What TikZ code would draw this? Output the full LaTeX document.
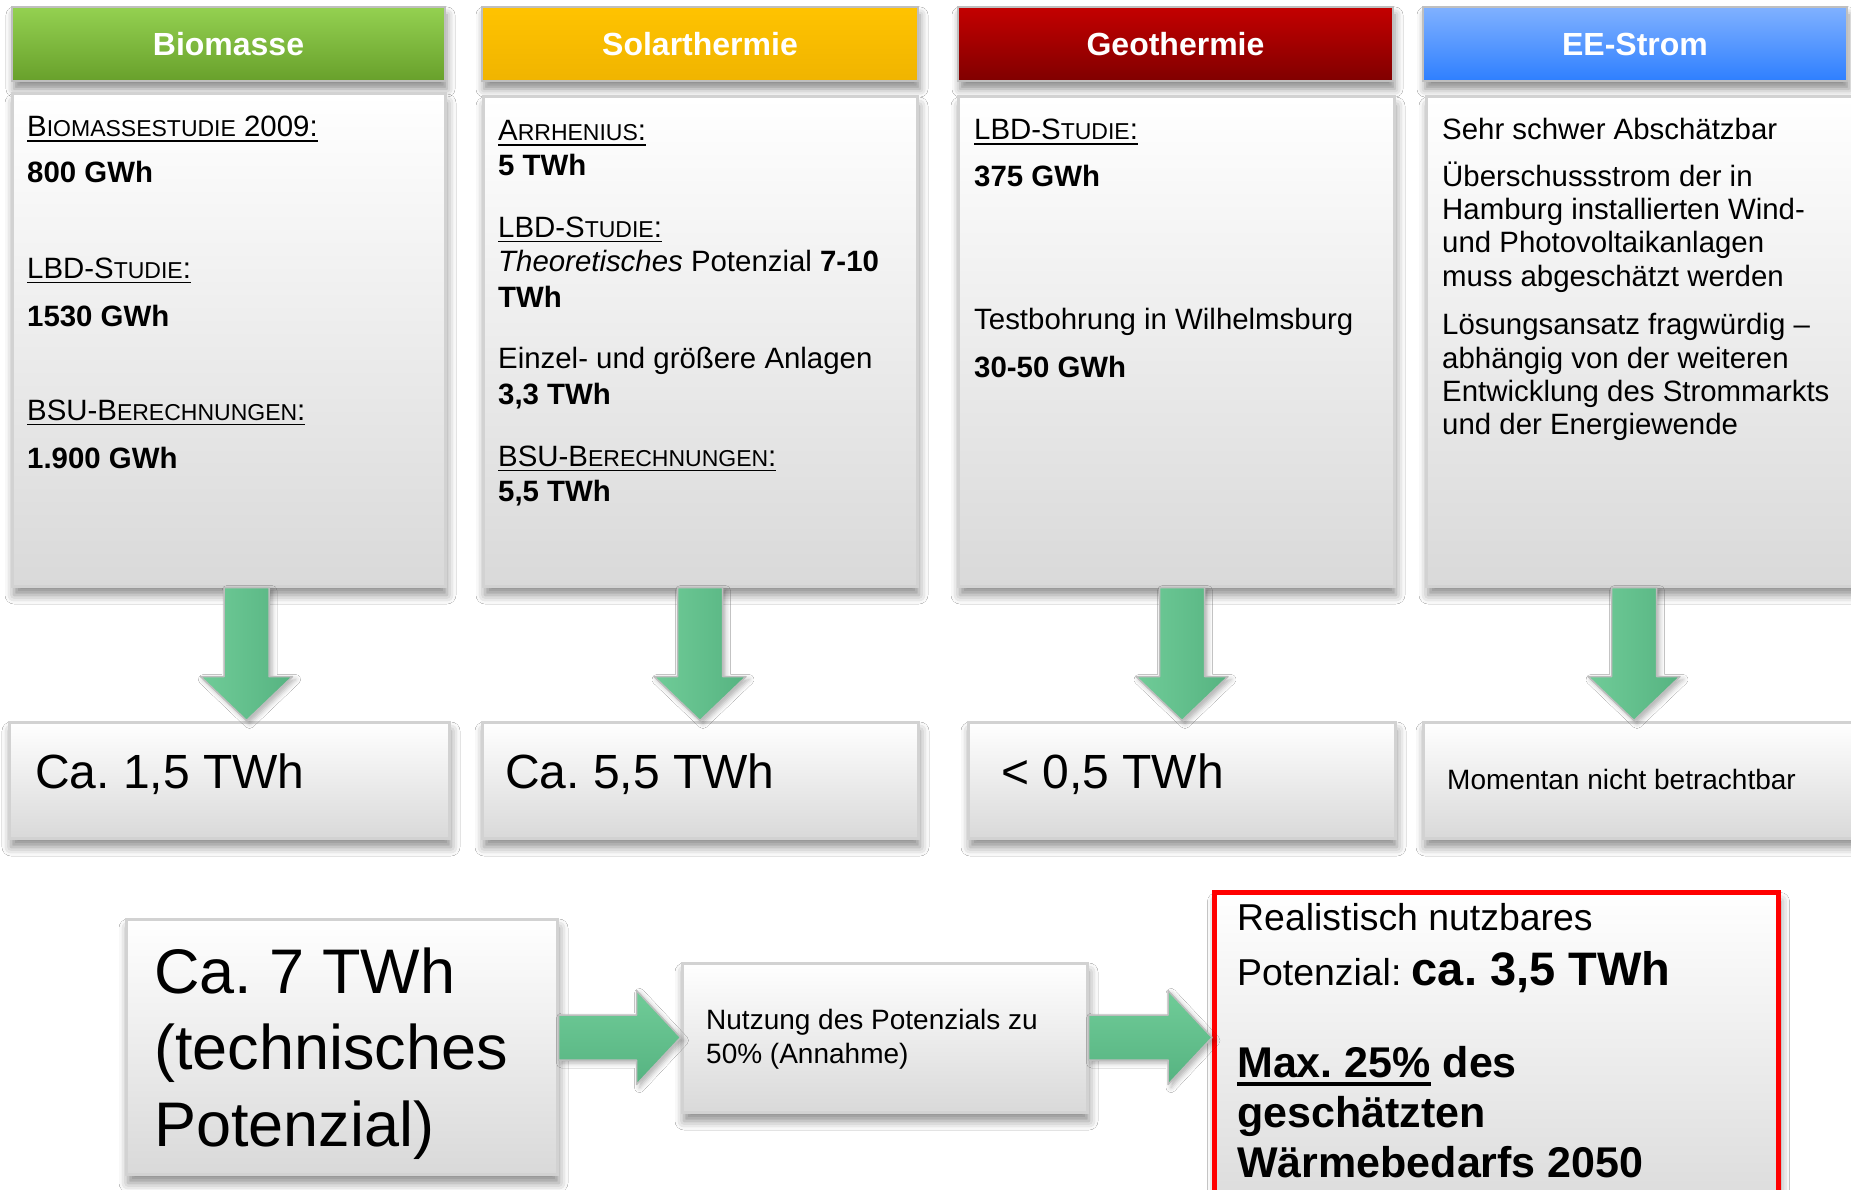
\documentclass[tikz,border=0pt]{standalone}
\usepackage{fontspec}
\setmainfont{Liberation Sans}
\usetikzlibrary{calc,shadows.blur}
\definecolor{boxbot}{HTML}{D9D9D9}
\definecolor{boxline}{HTML}{D2D2D2}
\definecolor{hdline}{HTML}{BFBFBF}
\definecolor{arrA}{HTML}{70CC98}
\definecolor{arrB}{HTML}{56B381}
\definecolor{arrline}{HTML}{BDBDBD}
\definecolor{grnT}{HTML}{94D151}
\definecolor{grnB}{HTML}{68A02B}
\definecolor{yelT}{HTML}{FFC300}
\definecolor{yelB}{HTML}{F0B400}
\definecolor{redT}{HTML}{C40000}
\definecolor{redB}{HTML}{800000}
\definecolor{bluT}{HTML}{80B1FF}
\definecolor{bluB}{HTML}{2E7FFF}
\newsavebox\ulbox
\newcommand\ulx[3]{\sbox\ulbox{#3}\rlap{\rule[-#1]{\wd\ulbox}{#2}}\usebox\ulbox}
\newcommand\uline[1]{\ulx{5.3pt}{1.8pt}{#1}}
\newcommand\smc[1]{{\fontsize{23}{27}\selectfont #1}}
\newcommand\blkdown[2]{%
  \path[blkarrow, left color=arrA, right color=arrB] let \p1=(#1), \p2=(#2) in
  (\x1-22.5pt,\y1) -- (\x1+22.5pt,\y1) -- (\x1+22.5pt,\y2+44pt) -- (\x1+46pt,\y2+44pt)
  -- (\x1,\y2) -- (\x1-46pt,\y2+44pt) -- (\x1-22.5pt,\y2+44pt) -- cycle;}
\newcommand\blkright[2]{%
  \path[blkarrow, top color=arrA, bottom color=arrB] let \p1=(#1), \p2=(#2) in
  (\x1,\y1+22.5pt) -- (\x2-44pt,\y1+22.5pt) -- (\x2-44pt,\y1+47pt) -- (\x2,\y1)
  -- (\x2-44pt,\y1-47pt) -- (\x2-44pt,\y1-22.5pt) -- (\x1,\y1-22.5pt) -- cycle;}
\begin{document}
\frenchspacing
\begin{tikzpicture}[x=1pt,y=-1pt,
  panel/.style={draw=boxline, line width=3pt, top color=white, bottom color=boxbot,
    inner sep=0pt, blur shadow={shadow xshift=2pt, shadow yshift=-9pt, shadow blur radius=9pt, shadow opacity=45}},
  headbox/.style={draw=hdline, line width=2.5pt, inner sep=0pt, text=white,
    font=\bfseries\fontsize{32}{37}\selectfont,
    blur shadow={shadow xshift=2pt, shadow yshift=-8pt, shadow blur radius=8pt, shadow opacity=45}},
  blkarrow/.style={draw=arrline, line width=1.5pt, line join=round,
    blur shadow={shadow xshift=3pt, shadow yshift=-3pt, shadow blur radius=5pt, shadow opacity=30}},
  txt/.style={anchor=base west, inner sep=0pt, font=\fontsize{29.4}{34}\selectfont},
  sml/.style={anchor=base west, inner sep=0pt, font=\fontsize{28}{33}\selectfont},
  big/.style={anchor=base west, inner sep=0pt, font=\fontsize{48}{56}\selectfont},
  huge/.style={anchor=base west, inner sep=0pt, font=\fontsize{63}{76}\selectfont},
  red/.style={anchor=base west, inner sep=0pt, font=\fontsize{37.4}{43}\selectfont},
  redb/.style={anchor=base west, inner sep=0pt, font=\bfseries\fontsize{43}{50}\selectfont}]
\useasboundingbox (0,0) rectangle (1851,1190);
\clip (0,0) rectangle (1851,1190);
\fill[white] (0,0) rectangle (1851,1190);

% headers
\node[headbox, top color=grnT, bottom color=grnB, minimum width=433, minimum height=74] (h1) at (228.5,44) {Biomasse};
\node[headbox, top color=yelT, bottom color=yelB, minimum width=436, minimum height=74] (h2) at (700,44) {Solarthermie};
\node[headbox, top color=redT, bottom color=redB, minimum width=435, minimum height=74] (h3) at (1175.5,44) {Geothermie};
\node[headbox, top color=bluT, bottom color=bluB, minimum width=424, minimum height=74] (h4) at (1635,44) {EE-Strom};

% content panels
\node[panel, minimum width=433, minimum height=492] (c1) at (228.5,340) {};
\node[panel, minimum width=434, minimum height=489] (c2) at (700,341.5) {};
\node[panel, minimum width=436, minimum height=489] (c3) at (1176,341.5) {};
\node[panel, minimum width=474, minimum height=489] (c4) at (1663,341.5) {};

% result panels
\node[panel, minimum width=440, minimum height=116] (r1) at (229,780) {};
\node[panel, minimum width=436, minimum height=116] (r2) at (700,780) {};
\node[panel, minimum width=427, minimum height=116] (r3) at (1181.5,780) {};
\node[panel, minimum width=477, minimum height=116] (r4) at (1661.5,780) {};

% bottom panels
\node[panel, minimum width=431, minimum height=255] (b1) at (341.5,1046.5) {};
\node[panel, minimum width=405, minimum height=149] (b2) at (884.5,1037.5) {};
\node[panel, draw=red, line width=5pt, minimum width=564, minimum height=337] (b3) at (1496.5,1061) {};

% arrows
\coordinate (ax1) at (246.5,0);
\coordinate (ax2) at (700,0);
\coordinate (ax3) at (1182,0);
\coordinate (ax4) at (1634,0);
\blkdown{c1.south -| ax1}{r1.north -| ax1}
\blkdown{c2.south -| ax2}{r2.north -| ax2}
\blkdown{c3.south -| ax3}{r3.north -| ax3}
\blkdown{c4.south -| ax4}{r4.north -| ax4}
\blkright{b1.east |- b2.west}{b2.west}
\blkright{b2.east}{b3.west |- b2.east}

% column 1
\node[txt] (t11) at (27,137) {\uline{B\smc{IOMASSESTUDIE} 2009:}};
\node[txt] (t12) at (27,183) {\textbf{800 GWh}};
\node[txt] (t13) at (27,278) {\uline{LBD-S\smc{TUDIE}:}};
\node[txt] (t14) at (27,326) {\textbf{1530 GWh}};
\node[txt] (t15) at (27,420) {\uline{BSU-B\smc{ERECHNUNGEN}:}};
\node[txt] (t16) at (27,468) {\textbf{1.900 GWh}};

% column 2
\node[txt] (t21) at (498,141) {\uline{A\smc{RRHENIUS}:}};
\node[txt] (t22) at (498,176) {\textbf{5 TWh}};
\node[txt] (t23) at (498,237) {\uline{LBD-S\smc{TUDIE}:}};
\node[txt] (t24) at (498,272) {\textit{Theoretisches} Potenzial \textbf{7-10}};
\node[txt] (t25) at (498,307) {\textbf{TWh}};
\node[txt] (t26) at (498,368) {Einzel- und größere Anlagen};
\node[txt] (t27) at (498,404) {\textbf{3,3 TWh}};
\node[txt] (t28) at (498,466) {\uline{BSU-B\smc{ERECHNUNGEN}:}};
\node[txt] (t29) at (498,501) {\textbf{5,5 TWh}};

% column 3
\node[txt] (t31) at (974,140) {\uline{LBD-S\smc{TUDIE}:}};
\node[txt] (t32) at (974,187) {\textbf{375 GWh}};
\node[txt] (t33) at (974,329) {Testbohrung in Wilhelmsburg};
\node[txt] (t34) at (974,377) {\textbf{30-50 GWh}};

% column 4
\node[txt] (t41) at (1442,140) {Sehr schwer Abschätzbar};
\node[txt] (t42) at (1442,187) {Überschussstrom der in};
\node[txt] (t43) at (1442,220) {Hamburg installierten Wind-};
\node[txt] (t44) at (1442,253) {und Photovoltaikanlagen};
\node[txt] (t45) at (1442,287) {muss abgeschätzt werden};
\node[txt] (t46) at (1442,334) {Lösungsansatz fragwürdig –};
\node[txt] (t47) at (1442,368) {abhängig von der weiteren};
\node[txt] (t48) at (1442,401) {Entwicklung des Strommarkts};
\node[txt] (t49) at (1442,434) {und der Energiewende};

% results
\node[big] (s1) at (35,788) {Ca. 1,5 TWh};
\node[big] (s2) at (505,788) {Ca. 5,5 TWh};
\node[big] (s3) at (1001,788) {< 0,5 TWh};
\node[sml] (s4) at (1447,789) {Momentan nicht betrachtbar};

% bottom texts
\node[huge] (u1) at (154,993) {Ca. 7 TWh};
\node[huge] (u2) at (154,1069) {(technisches};
\node[huge] (u3) at (154,1146) {Potenzial)};
\node[sml] (v1) at (706,1029) {Nutzung des Potenzials zu};
\node[sml] (v2) at (706,1063) {50\% (Annahme)};
\node[red] (w1) at (1237,930) {Realistisch nutzbares};
\node[red] (w2) at (1237,985) {Potenzial: {\bfseries\fontsize{47}{54}\selectfont ca. 3,5 TWh}};
\node[redb] (w3) at (1237,1077) {\ulx{8.5pt}{3.5pt}{Max. 25\%} des};
\node[redb] (w4) at (1237,1127) {geschätzten};
\node[redb] (w5) at (1237,1177) {Wärmebedarfs 2050};
\end{tikzpicture}
\end{document}
